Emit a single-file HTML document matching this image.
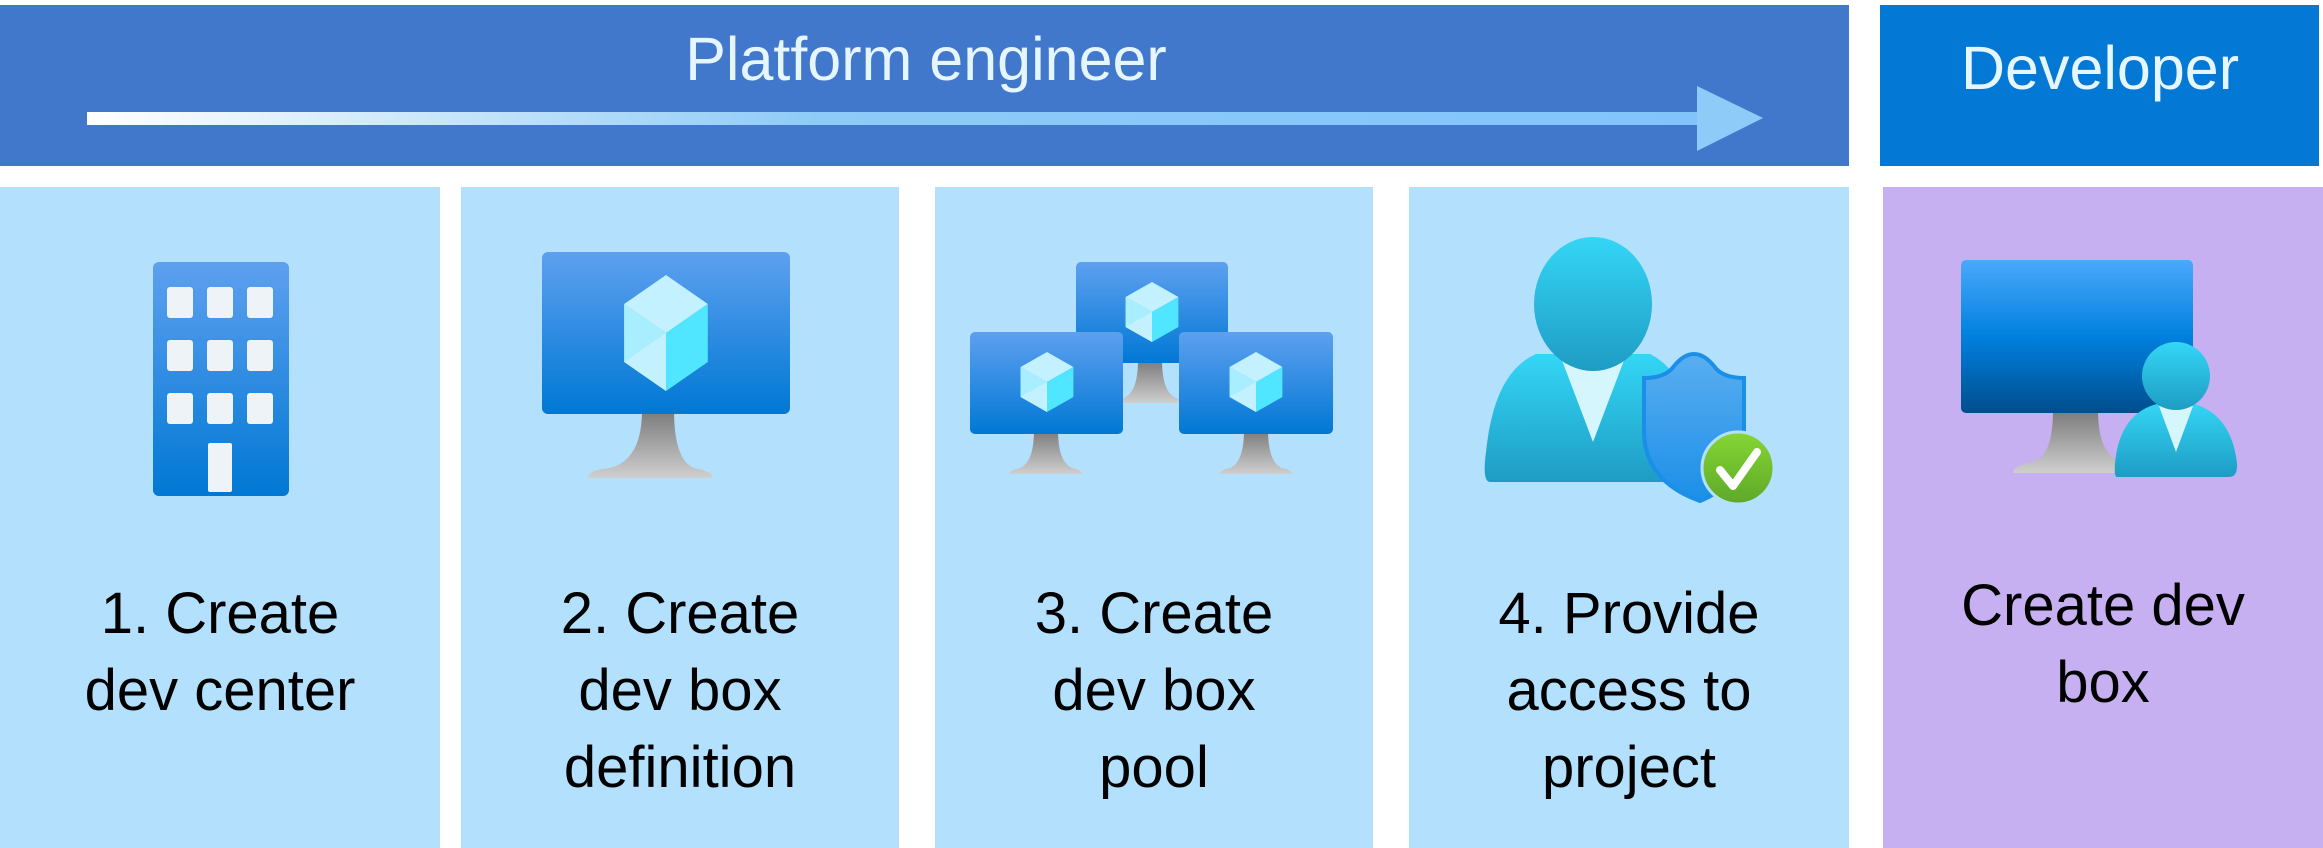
<!DOCTYPE html>
<html><head><meta charset="utf-8"><style>
html,body{margin:0;padding:0;background:#fff;}
body{width:2323px;height:848px;overflow:hidden;}
svg{display:block}
text{font-family:"Liberation Sans",sans-serif;}
</style></head><body>
<svg width="2323" height="848" viewBox="0 0 2323 848" xmlns="http://www.w3.org/2000/svg">
<defs>
<linearGradient id="arr" x1="0" x2="1" y1="0" y2="0"><stop offset="0" stop-color="#ffffff"/><stop offset="0.45" stop-color="#8ecbf8"/><stop offset="1" stop-color="#82c4fa"/></linearGradient>
<linearGradient id="mon" x1="0" x2="0" y1="0" y2="1"><stop offset="0" stop-color="#5ea0ef"/><stop offset="1" stop-color="#0078d4"/></linearGradient>
<linearGradient id="mon2" x1="0" x2="0" y1="0" y2="1"><stop offset="0" stop-color="#4aa9fb"/><stop offset="0.5" stop-color="#0080df"/><stop offset="1" stop-color="#004e8c"/></linearGradient>
<linearGradient id="stand" x1="0" x2="0" y1="0" y2="1"><stop offset="0" stop-color="#7a7a7a"/><stop offset="1" stop-color="#cfcfcf"/></linearGradient>
<linearGradient id="per" x1="0" x2="0" y1="0" y2="1"><stop offset="0" stop-color="#34d6f6"/><stop offset="1" stop-color="#1e9cc4"/></linearGradient>
<linearGradient id="sh" x1="0" x2="0" y1="0" y2="1"><stop offset="0" stop-color="#5aaef0"/><stop offset="1" stop-color="#1b8fe8"/></linearGradient>
<linearGradient id="gr" x1="0" x2="0" y1="0" y2="1"><stop offset="0" stop-color="#86d633"/><stop offset="1" stop-color="#5ea829"/></linearGradient>
<g id="cube">
<polygon points="0,-1 0.55,-0.5 0,0 -0.55,-0.5" fill="#c3f1ff"/>
<polygon points="-0.55,-0.5 0,0 0,1 -0.55,0.5" fill="#9cebff"/>
<polygon points="0.55,-0.5 0,0 0,1 0.55,0.5" fill="#50e6ff"/>
<polygon points="-0.55,-0.5 0,0 -0.55,0.5" fill="#a8eeff"/>
<polygon points="0,0 0,1 -0.55,0.5" fill="#c3f1ff"/>
</g>
</defs>

<rect x="0" y="5" width="1849" height="161" fill="#4278cb"/>
<rect x="1880" y="5" width="439" height="161" fill="#0378d4"/>
<text x="926" y="80" font-size="61" fill="#e6f6ff" text-anchor="middle">Platform engineer</text>
<text x="2100" y="89" font-size="61" fill="#e6f6ff" text-anchor="middle">Developer</text>
<rect x="87" y="112" width="1620" height="13" fill="url(#arr)"/>
<polygon points="1697,86 1763,118 1697,151" fill="#8ecbf8"/>

<rect x="0" y="187" width="440" height="661" fill="#b3e0fd"/>
<rect x="461" y="187" width="438" height="661" fill="#b3e0fd"/>
<rect x="935" y="187" width="438" height="661" fill="#b3e0fd"/>
<rect x="1409" y="187" width="440" height="661" fill="#b3e0fd"/>
<rect x="1883" y="187" width="440" height="661" fill="#c6b0f1"/>

<rect x="153" y="262" width="136" height="234" rx="6" fill="url(#mon)"/>
<g fill="#eef3f8">
<rect x="167" y="287" width="26" height="31" rx="3"/><rect x="207" y="287" width="26" height="31" rx="3"/><rect x="247" y="287" width="26" height="31" rx="3"/>
<rect x="167" y="340" width="26" height="31" rx="3"/><rect x="207" y="340" width="26" height="31" rx="3"/><rect x="247" y="340" width="26" height="31" rx="3"/>
<rect x="167" y="393" width="26" height="31" rx="3"/><rect x="207" y="393" width="26" height="31" rx="3"/><rect x="247" y="393" width="26" height="31" rx="3"/>
<rect x="208" y="443" width="24" height="49" rx="2"/>
</g>

<path d="M642,410 h32 q0,50 20,58 q20,4 18,10 h-124 q0,-8 22,-10 q32,-8 32,-58z" fill="url(#stand)"/>
<rect x="542" y="252" width="248" height="162" rx="6" fill="url(#mon)"/>
<use href="#cube" transform="translate(666,333) scale(76,58)"/>

<g>
<path d="M1138,360 h24 q0,32 14,38 q10,2 10,5 h-72 q0,-3 10,-5 q14,-6 14,-38z" fill="url(#stand)"/>
<rect x="1076" y="262" width="152" height="101" rx="5" fill="url(#mon)"/>
<use href="#cube" transform="translate(1152,312) scale(48,30)"/>
<path d="M1034,430 h24 q0,32 14,38 q10,2 10,6 h-72 q0,-4 10,-6 q14,-6 14,-38z" fill="url(#stand)"/>
<rect x="970" y="332" width="153" height="102" rx="5" fill="url(#mon)"/>
<use href="#cube" transform="translate(1047,382) scale(48,30)"/>
<path d="M1244,430 h24 q0,32 14,38 q10,2 10,6 h-72 q0,-4 10,-6 q14,-6 14,-38z" fill="url(#stand)"/>
<rect x="1179" y="332" width="154" height="102" rx="5" fill="url(#mon)"/>
<use href="#cube" transform="translate(1256,382) scale(48,30)"/>
</g>

<path d="M1490,482 q-8,0 -4,-30 q8,-80 50,-98 h114 q40,20 50,98 v30z" fill="url(#per)"/>
<polygon points="1560,355 1626,355 1593,442" fill="#d6f6fd"/>
<ellipse cx="1593" cy="304" rx="59" ry="67" fill="url(#per)"/>
<path d="M1644,378 q22,0 30,-12 q10,-12 20,-12 q10,0 20,12 q8,12 30,12 v60 q0,45 -44,63 q-56,-20 -56,-70z" fill="url(#sh)" stroke="#1b8fe8" stroke-width="4"/>
<circle cx="1738" cy="468" r="36" fill="url(#gr)" stroke="#b3e0fd" stroke-width="3"/>
<polyline points="1720,470 1733,486 1757,452" fill="none" stroke="#fff" stroke-width="8" stroke-linecap="round" stroke-linejoin="round"/>

<path d="M2053,410 h45 q0,42 20,50 q20,6 20,13 h-125 q0,-7 20,-11 q20,-6 20,-52z" fill="url(#stand)"/>
<rect x="1961" y="260" width="232" height="153" rx="5" fill="url(#mon2)"/>
<path d="M2117,477 q-3,0 -2,-14 q5,-52 46,-60 h30 q40,10 46,60 q1,14 -8,14z" fill="url(#per)"/>
<polygon points="2159,406 2193,406 2176,452" fill="#d6f6fd"/>
<circle cx="2176" cy="376" r="34" fill="url(#per)"/>

<g font-size="58" fill="#000" text-anchor="middle">
<text x="220" y="633">1. Create</text><text x="220" y="710">dev center</text>
<text x="680" y="633">2. Create</text><text x="680" y="710">dev box</text><text x="680" y="787">definition</text>
<text x="1154" y="633">3. Create</text><text x="1154" y="710">dev box</text><text x="1154" y="787">pool</text>
<text x="1629" y="633">4. Provide</text><text x="1629" y="710">access to</text><text x="1629" y="787">project</text>
<text x="2103" y="625">Create dev</text><text x="2103" y="702">box</text>
</g>
</svg>
</body></html>
